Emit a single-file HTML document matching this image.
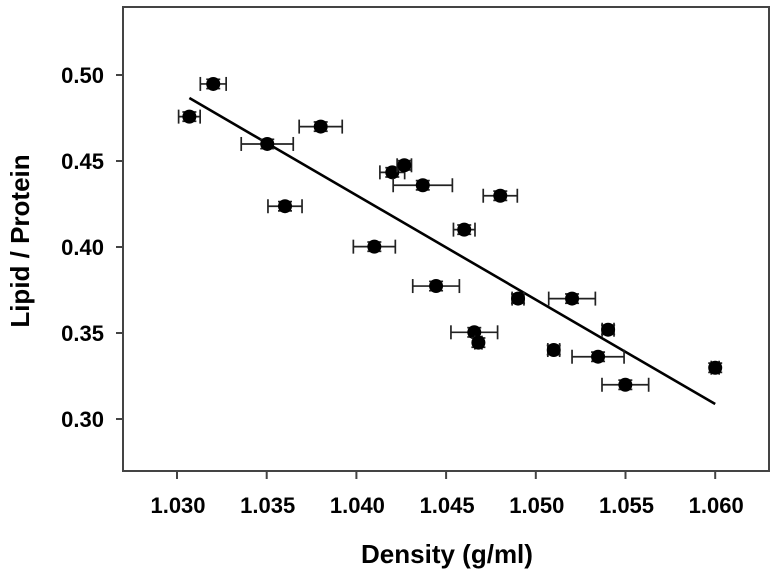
<!DOCTYPE html>
<html><head><meta charset="utf-8"><style>
html,body{margin:0;padding:0;background:#fff;}
svg{display:block;font-family:"Liberation Sans",Arial,sans-serif;}
</style></head><body>
<svg id="chart" width="777" height="577" viewBox="0 0 777 577">
<rect x="123" y="7" width="646" height="464" fill="none" stroke="#444" stroke-width="2"/>
<g id="xaxis"></g>
<g id="yaxis"></g>
<g id="fit"></g>
<g id="pts"></g>
<text x="447" y="563" text-anchor="middle" font-size="26" font-weight="bold">Density (g/ml)</text>
<text transform="translate(29,241) rotate(-90)" text-anchor="middle" font-size="26" font-weight="bold">Lipid / Protein</text>
</svg>
<script>
const xTicks=[1.030,1.035,1.040,1.045,1.050,1.055,1.060];
const xTickLabels=["1.030","1.035","1.040","1.045","1.050","1.055","1.060"];
const yTicks=[0.30,0.35,0.40,0.45,0.50];
const yTickLabels=["0.30","0.35","0.40","0.45","0.50"];
const density=[1.03069,1.03202,1.03503,1.03602,1.03801,1.0410,1.0420,1.04267,1.0437,1.04444,1.04601,1.04657,1.0468,1.04802,1.04901,1.05202,1.05403,1.0510,1.05347,1.05499,1.0600];
const lipidProtein=[0.4758,0.4948,0.4599,0.4237,0.4700,0.4002,0.4434,0.4475,0.4359,0.3773,0.4101,0.3504,0.3444,0.4298,0.3700,0.3700,0.3519,0.3401,0.3362,0.3199,0.3298];
const xErr=[0.0006,0.00072,0.00145,0.00095,0.0012,0.00117,0.00069,0.0004,0.00165,0.0013,0.0006,0.0013,0.0002,0.00095,0.00033,0.0013,0.00033,0.00033,0.00145,0.0013,0.00022];
const yErr=[0.0027,0.0027,0.0027,0.0027,0.0027,0.0027,0.0027,0.0027,0.0027,0.0027,0.0027,0.0027,0.0027,0.0027,0.0027,0.0027,0.0027,0.0027,0.0027,0.0027,0.0027];
const fitX=[1.03069,1.0600];
const fitY=[0.4866,0.3087];
const NS="http://www.w3.org/2000/svg";
function sx(v){return 177+(v-1.030)/0.005*89.7;}
function sy(v){return 75+(0.50-v)/0.05*86;}
function mk(tag,attrs,parent){const e=document.createElementNS(NS,tag);for(const k in attrs)e.setAttribute(k,attrs[k]);parent.appendChild(e);return e;}
const xa=document.getElementById('xaxis'),ya=document.getElementById('yaxis'),pts=document.getElementById('pts'),fit=document.getElementById('fit');
xTicks.forEach((t,i)=>{
 const l=mk('line',{x1:sx(t),x2:sx(t),y1:471,y2:479,stroke:'#444','stroke-width':2},xa);
 
 
 const tx=mk('text',{x:sx(t)+1,y:513,'text-anchor':'middle','font-size':22,'font-weight':'bold'},xa);
 tx.textContent=xTickLabels[i];
 
 
});
yTicks.forEach((t,i)=>{
 const l=mk('line',{x1:116,x2:123,y1:sy(t),y2:sy(t),stroke:'#444','stroke-width':2},ya);
 
 
 const tx=mk('text',{x:104,y:sy(t)+8,'text-anchor':'end','font-size':22,'font-weight':'bold'},ya);
 tx.textContent=yTickLabels[i];
 
 
});
const fl=mk('line',{x1:sx(fitX[0]),y1:sy(fitY[0]),x2:sx(fitX[1]),y2:sy(fitY[1]),stroke:'#000','stroke-width':2.6},fit);


density.forEach((d,i)=>{
 const g=mk('g',{stroke:'#222','stroke-width':1.7,fill:'none'},pts);
 
 
 const cx=sx(d),cy=sy(lipidProtein[i]);
 const x0=sx(d-xErr[i]),x1=sx(d+xErr[i]),y0=sy(lipidProtein[i]+yErr[i]),y1=sy(lipidProtein[i]-yErr[i]);
 mk('line',{x1:x0,x2:x1,y1:cy,y2:cy},g);
 mk('line',{x1:x0,x2:x0,y1:cy-7,y2:cy+7},g);
 mk('line',{x1:x1,x2:x1,y1:cy-7,y2:cy+7},g);
 mk('line',{x1:cx,x2:cx,y1:y0,y2:y1},g);
 mk('line',{x1:cx-7,x2:cx+7,y1:y0,y2:y0},g);
 mk('line',{x1:cx-7,x2:cx+7,y1:y1,y2:y1},g);
 mk('circle',{cx:cx,cy:cy,r:7,fill:'#000',stroke:'none'},g);
});
</script>
</body></html>
